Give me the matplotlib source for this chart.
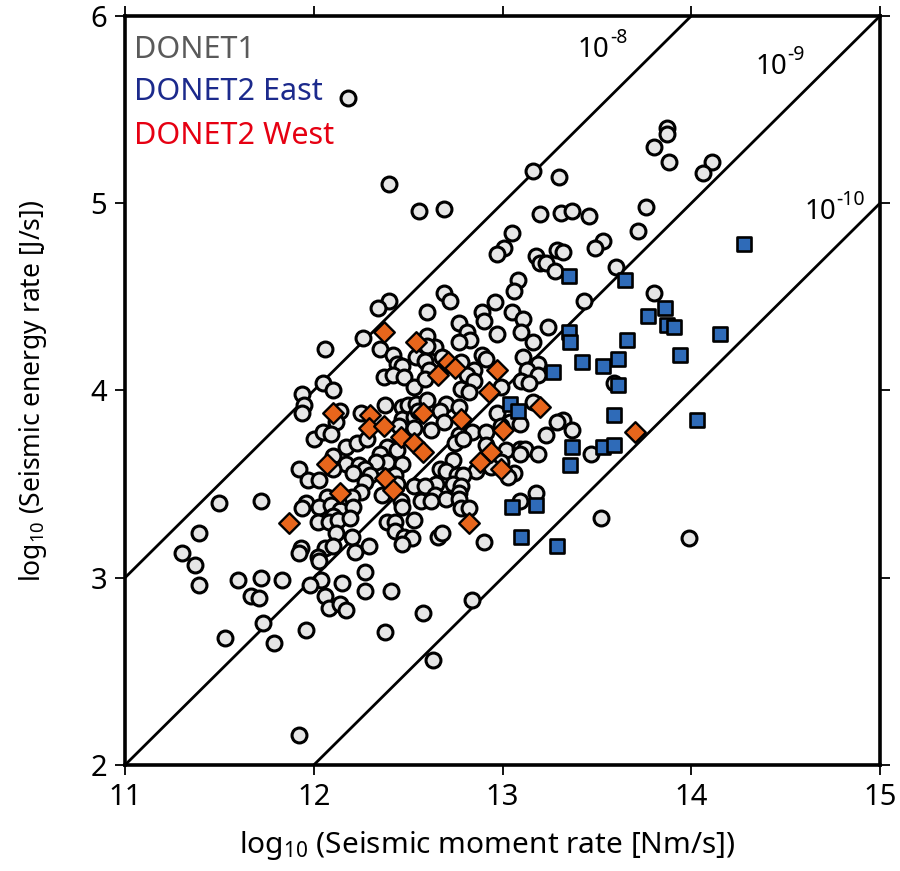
import numpy as np
import matplotlib
matplotlib.use("Agg")
import matplotlib.pyplot as plt

plt.rcParams['font.family'] = ['Noto Sans', 'DejaVu Sans']
plt.rcParams['mathtext.fontset'] = 'custom'
plt.rcParams['mathtext.rm'] = 'Noto Sans'
plt.rcParams['mathtext.it'] = 'Noto Sans'

# DONET1 (circles)
donet1_x = [12.18, 12.40, 12.56, 12.69, 13.16, 13.30, 13.05, 13.01, 12.97, 13.20,
            13.31, 13.37, 13.46, 13.18, 13.20, 13.23, 13.29, 13.32, 13.53, 13.49,
            13.60, 13.28, 13.08, 13.87, 13.87, 13.80, 13.88, 14.11, 14.06, 13.76,
            13.72, 13.43, 13.80, 13.59, 13.32, 13.37, 13.47, 13.52, 13.99, 13.29,
            12.40, 12.34, 12.26, 12.06, 12.35, 12.42, 12.44, 12.47, 12.37, 12.42,
            12.48, 12.54, 12.53, 12.05, 12.10, 11.94, 11.95, 11.94, 12.14, 12.25,
            12.38, 12.47, 12.50, 12.54, 12.47, 12.53, 12.12, 12.45, 12.53, 12.55,
            13.06, 12.69, 12.72, 12.96, 12.60, 12.89, 13.05, 12.90, 13.11, 12.77,
            13.24, 12.81, 12.97, 13.10, 12.60, 13.16, 12.83, 12.77, 12.64, 12.60,
            13.11, 12.89, 12.91, 12.68, 12.78, 12.85, 12.59, 12.61, 12.81, 13.19,
            13.13, 13.19, 13.10, 13.14, 12.85, 12.78, 12.82, 12.99, 12.59, 12.70,
            12.67, 12.77, 12.60, 12.97, 13.16, 13.04, 13.09, 12.69, 12.62, 12.84,
            12.91, 12.99, 12.00, 12.05, 12.09, 12.17, 12.23, 12.28, 12.39, 12.44,
            12.35, 12.10, 12.39, 12.47, 12.33, 11.92, 12.17, 12.24, 12.27, 12.21,
            12.10, 12.30, 11.97, 12.03, 12.27, 12.43, 12.44, 12.53, 12.36, 12.25,
            12.20, 12.07, 11.96, 11.94, 12.03, 12.09, 12.14, 12.21, 12.46, 12.47,
            12.57, 12.10, 12.02, 12.08, 12.13, 12.19, 12.39, 12.43, 12.53, 12.12,
            12.43, 12.48, 12.52, 12.47, 12.20, 11.93, 11.92, 12.06, 12.10, 12.02,
            12.22, 12.29, 12.03, 12.27, 11.83, 12.04, 12.77, 12.91, 12.75, 12.79,
            13.02, 13.09, 13.12, 13.09, 13.19, 13.23, 12.74, 12.67, 12.70, 12.99,
            12.86, 13.06, 13.03, 12.76, 12.79, 12.65, 12.74, 12.78, 12.59, 12.64,
            12.77, 12.70, 12.62, 12.77, 12.78, 12.82, 13.18, 13.09, 12.66, 12.68,
            12.90, 12.94, 11.50, 11.72, 11.39, 11.30, 11.37, 11.39, 11.60, 11.72,
            11.67, 11.71, 11.73, 11.53, 11.79, 11.96, 11.98, 11.92, 12.15, 12.27,
            12.41, 12.06, 12.08, 12.14, 12.17, 12.38, 12.58, 12.84, 12.63]
donet1_y = [5.56, 5.10, 4.96, 4.97, 5.17, 5.14, 4.84, 4.76, 4.73, 4.94,
            4.95, 4.96, 4.93, 4.72, 4.68, 4.68, 4.75, 4.74, 4.80, 4.76,
            4.66, 4.64, 4.59, 5.40, 5.37, 5.30, 5.22, 5.22, 5.16, 4.98,
            4.85, 4.48, 4.52, 4.04, 3.84, 3.79, 3.66, 3.32, 3.21, 3.83,
            4.48, 4.44, 4.28, 4.22, 4.22, 4.19, 4.14, 4.13, 4.07, 4.08,
            4.07, 4.18, 4.02, 4.04, 4.00, 3.98, 3.92, 3.88, 3.89, 3.88,
            3.92, 3.91, 3.92, 3.93, 3.85, 3.86, 3.83, 3.81, 3.80, 3.89,
            4.53, 4.52, 4.48, 4.47, 4.42, 4.42, 4.42, 4.37, 4.38, 4.36,
            4.34, 4.31, 4.30, 4.31, 4.29, 4.26, 4.27, 4.26, 4.23, 4.24,
            4.18, 4.19, 4.17, 4.18, 4.15, 4.11, 4.16, 4.11, 4.08, 4.14,
            4.11, 4.08, 4.05, 4.04, 4.05, 4.01, 3.99, 4.02, 4.06, 3.93,
            3.89, 3.91, 3.95, 3.88, 3.94, 3.83, 3.82, 3.83, 3.79, 3.78,
            3.78, 3.81, 3.74, 3.78, 3.77, 3.70, 3.72, 3.74, 3.70, 3.68,
            3.66, 3.65, 3.62, 3.61, 3.62, 3.58, 3.61, 3.60, 3.58, 3.56,
            3.58, 3.55, 3.52, 3.52, 3.51, 3.55, 3.50, 3.49, 3.44, 3.46,
            3.43, 3.43, 3.40, 3.37, 3.38, 3.39, 3.36, 3.38, 3.41, 3.38,
            3.41, 3.33, 3.30, 3.30, 3.31, 3.32, 3.30, 3.30, 3.31, 3.24,
            3.25, 3.22, 3.21, 3.18, 3.22, 3.16, 3.13, 3.16, 3.17, 3.11,
            3.14, 3.17, 3.09, 3.03, 2.99, 2.99, 3.76, 3.71, 3.72, 3.74,
            3.68, 3.69, 3.69, 3.66, 3.66, 3.76, 3.63, 3.58, 3.57, 3.62,
            3.57, 3.56, 3.54, 3.55, 3.55, 3.50, 3.50, 3.49, 3.49, 3.44,
            3.45, 3.42, 3.41, 3.42, 3.37, 3.37, 3.45, 3.41, 3.22, 3.24,
            3.19, 3.59, 3.40, 3.41, 3.24, 3.13, 3.07, 2.96, 2.99, 3.00,
            2.90, 2.89, 2.76, 2.68, 2.65, 2.72, 2.96, 2.16, 2.97, 2.93,
            2.93, 2.90, 2.84, 2.86, 2.83, 2.71, 2.81, 2.88, 2.56]

# DONET2 East (squares)
east_x = [14.28, 13.35, 13.65, 13.86, 13.77, 13.87, 13.91, 14.15, 13.35, 13.36,
          13.66, 13.42, 13.53, 13.61, 13.94, 13.61, 13.59, 14.03, 13.37, 13.53,
          13.59, 13.36, 13.27, 13.04, 13.08, 13.05, 13.18, 13.10, 13.29]
east_y = [4.78, 4.61, 4.59, 4.44, 4.40, 4.35, 4.34, 4.30, 4.31, 4.26,
          4.27, 4.15, 4.13, 4.17, 4.19, 4.03, 3.87, 3.84, 3.70, 3.70,
          3.71, 3.60, 4.10, 3.93, 3.89, 3.38, 3.39, 3.22, 3.17]

# DONET2 West (diamonds)
west_x = [12.37, 12.54, 12.10, 12.30, 12.29, 12.37, 12.71, 12.75, 12.66, 12.97,
          12.93, 13.20, 12.58, 12.78, 13.00, 12.46, 12.53, 12.07, 12.14, 11.87,
          12.38, 12.42, 12.94, 12.88, 12.99, 12.82, 12.58, 13.70]
west_y = [4.31, 4.26, 3.88, 3.87, 3.80, 3.81, 4.15, 4.12, 4.08, 4.11,
          3.99, 3.91, 3.88, 3.85, 3.79, 3.75, 3.72, 3.61, 3.45, 3.29,
          3.53, 3.47, 3.67, 3.62, 3.58, 3.29, 3.67, 3.78]

# ratio lines log E = log M + c
ratios = [-8, -9, -10]
ratio_exp = ['-8', '-9', '-10']
label_pos = [(13.40, 5.78), (14.34, 5.69), (14.60, 4.915)]

fig = plt.figure(figsize=(9, 8.71), dpi=100)
ax = fig.add_axes([0.1389, 0.1217, 0.8389, 0.86])

xx = np.array([11.0, 15.0])
for c in ratios:
    ax.plot(xx, xx + c, color='black', lw=2.0, zorder=1)
for ex, (lx, ly) in zip(ratio_exp, label_pos):
    ax.annotate('10', (lx, ly), fontsize=20, ha='left', va='baseline', zorder=5)
    ax.annotate(ex, (lx, ly), xytext=(23, 10), textcoords='offset points',
                fontsize=14, ha='left', va='baseline', zorder=5)

ax.scatter(donet1_x, donet1_y, s=115, marker='o', facecolor='#e6e6e6',
           edgecolor='black', linewidth=2.2, zorder=2)
ax.scatter(west_x, west_y, s=110, marker='D', facecolor='#e8661c',
           edgecolor='black', linewidth=1.7, zorder=3)
ax.scatter(east_x, east_y, s=105, marker='s', facecolor='#2f6bb8',
           edgecolor='black', linewidth=1.9, zorder=4)

ax.text(0.012, 0.955, 'DONET1', transform=ax.transAxes, fontsize=22,
        color='#5a5a5a', va='center')
ax.text(0.012, 0.898, 'DONET2 East', transform=ax.transAxes, fontsize=22,
        color='#1c2a8c', va='center')
ax.text(0.012, 0.840, 'DONET2 West', transform=ax.transAxes, fontsize=22,
        color='#e60012', va='center')

ax.set_xlim(11, 15)
ax.set_ylim(2, 6)
ax.set_xticks([11, 12, 13, 14, 15])
ax.set_yticks([2, 3, 4, 5, 6])
ax.tick_params(direction='out', length=7, width=1.3, labelsize=21,
               top=True, right=True, pad=6)
for sp in ax.spines.values():
    sp.set_linewidth(2.6)

ax.set_xlabel(r'log$_{10}$ (Seismic moment rate [Nm/s])', fontsize=21.5)
ax.xaxis.set_label_coords(0.48, -0.085)
ax.set_ylabel(r'log$_{10}$ (Seismic energy rate [J/s])', fontsize=19, labelpad=30)

fig.savefig('out.png', dpi=100)
